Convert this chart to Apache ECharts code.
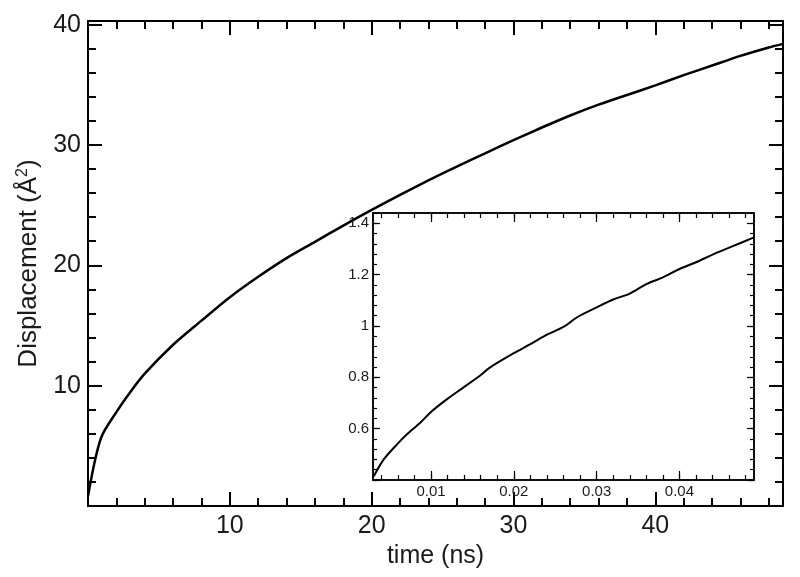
<!DOCTYPE html>
<html>
<head>
<meta charset="utf-8">
<script src="https://cdn.jsdelivr.net/npm/echarts@6/dist/echarts.min.js"></script>
<style>
html,body{margin:0;padding:0;background:#fff;}
#chart{width:800px;height:577px;}
</style>
</head>
<body>
<div id="chart"></div>
<script>
// ---- main curve (time in ns, displacement in Å^2)
var mainTime = [0, 0.9, 2, 3, 4, 6, 8, 10, 12, 14, 16, 18, 20, 22, 24, 26, 28, 30, 32, 34, 36, 38, 40, 42, 44, 46, 48, 49];
var mainDisp = [0.8, 5.6, 7.8, 9.5, 11.0, 13.4, 15.4, 17.35, 19.05, 20.6, 21.95, 23.3, 24.6, 25.85, 27.05, 28.2, 29.3, 30.4, 31.45, 32.45, 33.35, 34.15, 34.95, 35.8, 36.6, 37.4, 38.1, 38.4];

// ---- inset curve
var insetTime = [0.0031, 0.0043, 0.0059, 0.0071, 0.0087, 0.010, 0.0119, 0.0139, 0.0159, 0.0171, 0.020, 0.022, 0.024, 0.026, 0.0276, 0.030, 0.032, 0.034, 0.036, 0.038, 0.040, 0.042, 0.044, 0.046, 0.049];
var insetDisp = [0.415, 0.48, 0.539, 0.578, 0.623, 0.665, 0.714, 0.76, 0.806, 0.838, 0.894, 0.929, 0.966, 0.996, 1.033, 1.072, 1.103, 1.126, 1.163, 1.189, 1.222, 1.248, 1.278, 1.305, 1.345];

// ---- tick labels
var mainXLabels = [10, 20, 30, 40];
var mainYLabels = [10, 20, 30, 40];
var insetXLabels = [0.01, 0.02, 0.03, 0.04];
var insetYLabels = [0.6, 0.8, 1, 1.2, 1.4];

// ---- tick positions
var mainXMajor = [0, 10, 20, 30, 40];
var mainYMajor = [0, 10, 20, 30, 40];
var insetXMajor = [0.01, 0.02, 0.03, 0.04];
var insetYMajor = [0.4, 0.6, 0.8, 1, 1.2, 1.4];

function steps(a, b, s, prec) {
  var out = [];
  for (var i = 0; a + i * s <= b + 1e-9; i++) out.push(+(a + i * s).toFixed(prec));
  return out;
}
var mainXMinor = steps(0, 48, 2, 0);
var mainYMinor = steps(0, 40, 2, 0);
var insetXMinor = steps(0.004, 0.048, 0.002, 3);
var insetYMinor = steps(0.4, 1.44, 0.04, 2);

var FONT = '"Liberation Sans", Arial, Helvetica, sans-serif';

function pairs(xs, ys) { return xs.map(function (x, i) { return [x, ys[i]]; }); }

function axisSet(dim, grid, min, max, major, minor, labels, cfg) {
  var positions = dim === 'x' ? ['bottom', 'top'] : ['left', 'right'];
  var res = [];
  positions.forEach(function (pos, pi) {
    [true, false].forEach(function (isMajor) {
      var a = {
        type: 'value', gridIndex: grid, position: pos, min: min, max: max, z: cfg.z,
        splitLine: { show: false },
        axisLine: { show: true, onZero: false, lineStyle: { color: '#000', width: cfg.lineW } },
        axisTick: { show: true, inside: true, length: isMajor ? cfg.majorLen : cfg.minorLen,
                    customValues: isMajor ? major : minor,
                    lineStyle: { color: '#000', width: cfg.tickW } },
        axisLabel: { show: false }
      };
      if (pi === 0 && isMajor) {
        a.axisLabel = { show: true, customValues: labels, margin: cfg.labelMargin,
                        color: '#1a1a1a', fontSize: cfg.fontSize, fontFamily: FONT };
        if (cfg.name) {
          a.name = cfg.name; a.nameLocation = 'middle'; a.nameGap = cfg.nameGap;
          a.nameTextStyle = cfg.nameStyle;
          if (cfg.nameRotate) a.nameRotate = cfg.nameRotate;
        }
      }
      res.push(a);
    });
  });
  return res;
}

var xAxes = [].concat(
  axisSet('x', 0, 0, 49, mainXMajor, mainXMinor, mainXLabels,
    { z: 2, lineW: 2, tickW: 2, majorLen: 14, minorLen: 8, labelMargin: 8, fontSize: 25,
      name: 'time (ns)', nameGap: 35, nameStyle: { fontSize: 25, color: '#1a1a1a', fontFamily: FONT } }),
  axisSet('x', 1, 0.003, 0.049, insetXMajor, insetXMinor, insetXLabels,
    { z: 6, lineW: 1.5, tickW: 1.2, majorLen: 9, minorLen: 5, labelMargin: 4, fontSize: 15 })
);
var yAxes = [].concat(
  axisSet('y', 0, 0, 40.3, mainYMajor, mainYMinor, mainYLabels,
    { z: 2, lineW: 2, tickW: 2, majorLen: 14, minorLen: 8, labelMargin: 7, fontSize: 25,
      name: '{a|Displacement (Å}{s|2}{a|)}', nameGap: 45, nameRotate: 90,
      nameStyle: { color: '#1a1a1a', fontFamily: FONT,
        rich: { a: { fontSize: 26, fontFamily: FONT, color: '#1a1a1a' },
                s: { fontSize: 16, fontFamily: FONT, color: '#1a1a1a', verticalAlign: 'top', padding: [0, 0, 12, 0] } } } }),
  axisSet('y', 1, 0.4, 1.44, insetYMajor, insetYMinor, insetYLabels,
    { z: 6, lineW: 1.5, tickW: 1.2, majorLen: 7, minorLen: 4, labelMargin: 4, fontSize: 15 })
);

var chart = echarts.init(document.getElementById('chart'), null, { renderer: 'canvas' });
chart.setOption({
  backgroundColor: '#fff',
  animation: false,
  grid: [
    { left: 88, top: 21, width: 695, height: 485, containLabel: false },
    { left: 373, top: 213, width: 381, height: 267, containLabel: false, show: true, backgroundColor: '#fff', borderWidth: 0, z: 3 }
  ],
  xAxis: xAxes,
  yAxis: yAxes,
  series: [
    { type: 'line', xAxisIndex: 0, yAxisIndex: 0, data: pairs(mainTime, mainDisp),
      showSymbol: false, smooth: 0.3, lineStyle: { color: '#000', width: 2.5 } },
    { type: 'line', xAxisIndex: 4, yAxisIndex: 4, data: pairs(insetTime, insetDisp),
      showSymbol: false, smooth: 0.3, z: 7, lineStyle: { color: '#000', width: 2 } }
  ]
});
</script>
</body>
</html>
